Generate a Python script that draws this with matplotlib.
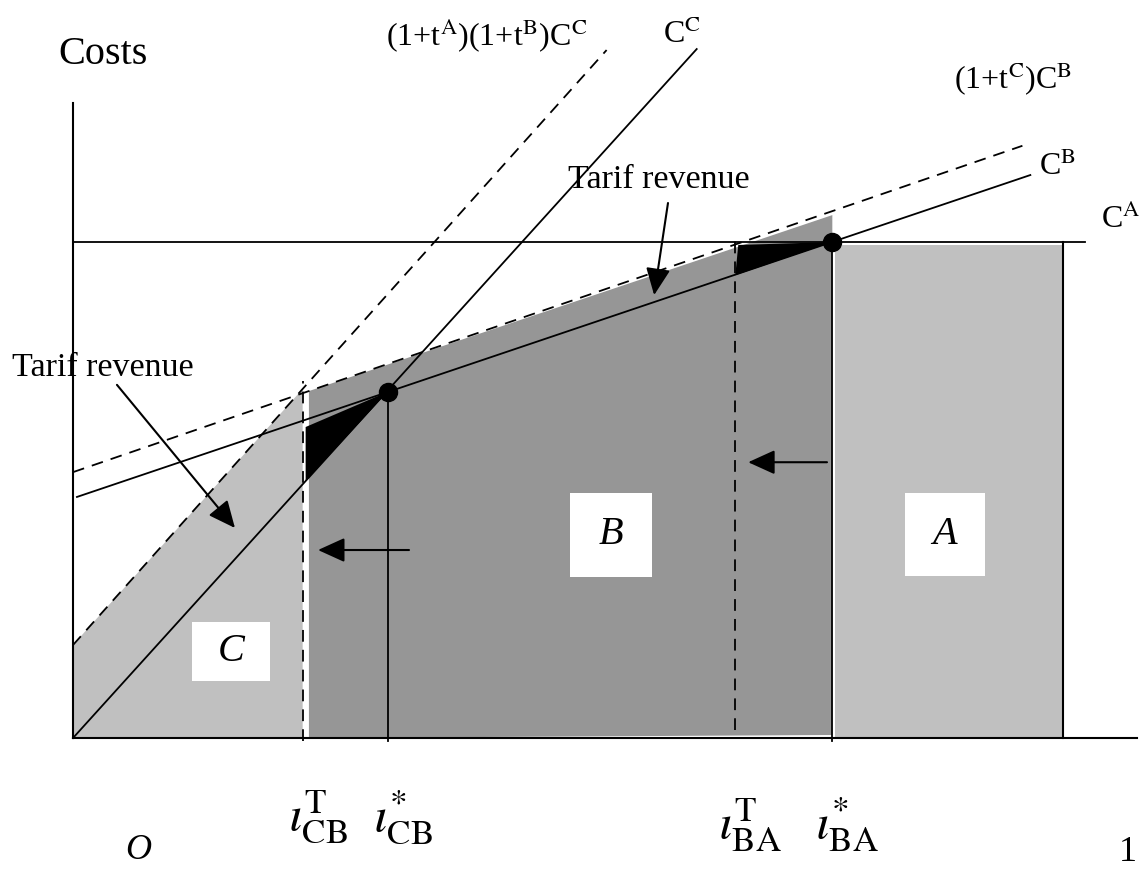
import numpy as np
import matplotlib.pyplot as plt
from matplotlib.patches import Polygon, Rectangle

plt.rcParams['font.family'] = ['Liberation Serif', 'DejaVu Serif']
plt.rcParams['mathtext.fontset'] = 'stix'

# cut-off points on the horizontal axis (share of goods, 0..1)
i_CB_T, i_CB_star = 0.232, 0.318
i_BA_T, i_BA_star = 0.669, 0.767
x_end = 1.0

# cost lines, end points
ca_x, ca_y = [0.0, 1.022], [1.0, 1.0]
cb_x, cb_y = [0.004, 0.967], [0.486, 1.135]
cb_tar_x, cb_tar_y = [0.0, 0.959], [0.536, 1.194]
cc_x, cc_y = [0.0, 0.630], [0.0, 1.389]
cc_tar_x, cc_tar_y = [0.0, 0.539], [0.1875, 1.387]

# black tariff revenue wedges
rev_c_x, rev_c_y = [0.235, 0.235, 0.318], [0.627, 0.518, 0.698]
rev_b_x, rev_b_y = [0.672, 0.669, 0.767], [0.994, 0.933, 1.0]

# equilibrium dots
dots_x = [i_CB_star, i_BA_star]
dots_y = [0.698, 1.0]

LIGHT = '#c0c0c0'
DARK = '#969696'
LW = 1.3
DASH = (0, (6.5, 4.5))


def line_at(xs, ys, x):
    # value of a straight line through two end points
    return ys[0] + (ys[1] - ys[0]) / (xs[1] - xs[0]) * (x - xs[0])


fig = plt.figure(figsize=(11.45, 8.72), dpi=100)
ax = fig.add_axes([0, 0, 1, 1])
ax.set_xlim(-73 / 990, (1145 - 73) / 990)
ax.set_ylim((738 - 872) / 496, 738 / 496)
ax.axis('off')

# shaded regions
top_c = line_at(cc_tar_x, cc_tar_y, i_CB_T)
ax.add_patch(Polygon([(0, 0), (0, cc_tar_y[0]), (i_CB_T, top_c), (i_CB_T, 0)],
                     closed=True, facecolor=LIGHT, edgecolor='none', zorder=1))
xb0 = i_CB_T + 0.004
ax.add_patch(Polygon([(xb0, 0), (xb0, line_at(cb_tar_x, cb_tar_y, xb0)),
                      (i_BA_star, line_at(cb_tar_x, cb_tar_y, i_BA_star) - 0.008),
                      (i_BA_star, 0.006)],
                     closed=True, facecolor=DARK, edgecolor='none', zorder=1))
ax.add_patch(Rectangle((i_BA_star + 0.003, 0), x_end - i_BA_star - 0.004, ca_y[0] - 0.006,
                       facecolor=LIGHT, edgecolor='none', zorder=1))

# black revenue wedges
ax.add_patch(Polygon(list(zip(rev_c_x, rev_c_y)), closed=True, facecolor='black',
                     edgecolor='none', zorder=3))
ax.add_patch(Polygon(list(zip(rev_b_x, rev_b_y)), closed=True, facecolor='black',
                     edgecolor='none', zorder=3))

# axes
ax.plot([0, 0], [0, 1.28], color='black', lw=1.5, zorder=4)
ax.plot([0, 1.075], [0, 0], color='black', lw=1.5, zorder=4)

# cost lines
ax.plot(ca_x, ca_y, color='black', lw=LW, zorder=4)
ax.plot(cb_x, cb_y, color='black', lw=LW, zorder=4)
ax.plot(cb_tar_x, cb_tar_y, color='black', lw=LW, ls=DASH, zorder=4)
ax.plot(cc_x, cc_y, color='black', lw=LW, zorder=4)
ax.plot(cc_tar_x, cc_tar_y, color='black', lw=LW, ls=DASH, zorder=4)

# vertical cut-off lines
ax.plot([i_CB_T + 0.0035] * 2, [0, top_c], color='white', lw=3.5, zorder=2)
ax.plot([i_CB_T] * 2, [-0.006, top_c + 0.015], color='black', lw=LW, ls=DASH, zorder=4)
ax.plot([i_CB_star] * 2, [-0.006, dots_y[0]], color='black', lw=LW, zorder=4)
ax.plot([i_BA_T] * 2, [0.016, 1.008], color='black', lw=LW, ls=DASH, zorder=4)
ax.plot([i_BA_star] * 2, [-0.006, dots_y[1]], color='black', lw=LW, zorder=4)
ax.plot([x_end] * 2, [0, ca_y[0]], color='black', lw=1.5, zorder=4)

ax.plot(dots_x, dots_y, 'o', color='black', ms=13, zorder=5)

# arrows
arrow = dict(arrowstyle='-|>,head_length=0.55,head_width=0.25', mutation_scale=30,
             color='black', lw=1.5, shrinkA=0, shrinkB=0)
ax.annotate('', xy=(0.2475, 0.379), xytext=(0.3394, 0.379), arrowprops=arrow, zorder=6)
ax.annotate('', xy=(0.682, 0.556), xytext=(0.7616, 0.556), arrowprops=arrow, zorder=6)
ax.annotate('', xy=(0.1636, 0.4234), xytext=(0.0444, 0.712), arrowprops=arrow, zorder=6)
ax.annotate('', xy=(0.587, 0.893), xytext=(0.601, 1.0786), arrowprops=arrow, zorder=6)

# region letters in white boxes
for lab, x0, x1, y0, y1 in [('C', 0.1202, 0.1990, 0.115, 0.234),
                             ('B', 0.5020, 0.5848, 0.325, 0.494),
                             ('A', 0.8404, 0.9212, 0.327, 0.494)]:
    ax.add_patch(Rectangle((x0, y0), x1 - x0, y1 - y0, facecolor='white',
                           edgecolor='none', zorder=6))
    ax.text((x0 + x1) / 2, (y0 + y1) / 2, lab, style='italic', fontsize=29,
            ha='center', va='center', zorder=7)

# labels
ax.text(-0.0152, 1.379, 'Costs', fontsize=29, ha='left', va='center')
ax.text(-0.0616, 0.746, 'Tarif revenue', fontsize=24.5, ha='left', va='center')
ax.text(0.683, 1.125, 'Tarif revenue', fontsize=24.5, ha='right', va='center')
ax.text(0.418, 1.415, r'(1+t$^{\mathrm{A}}$)(1+t$^{\mathrm{B}}$)C$^{\mathrm{C}}$',
        fontsize=23, ha='center', va='center')
ax.text(0.615, 1.418, r'C$^{\mathrm{C}}$', fontsize=23, ha='center', va='center')
ax.text(0.9495, 1.328, r'(1+t$^{\mathrm{C}}$)C$^{\mathrm{B}}$', fontsize=23,
        ha='center', va='center')
ax.text(0.994, 1.152, r'C$^{\mathrm{B}}$', fontsize=23, ha='center', va='center')
ax.text(1.058, 1.045, r'C$^{\mathrm{A}}$', fontsize=23, ha='center', va='center')

# axis labels
ax.text(0.066, -0.226, 'O', style='italic', fontsize=26, ha='center', va='center')
ax.text(1.066, -0.23, '1', fontsize=26, ha='center', va='center')
tick_labels = [r'$\iota_{\mathrm{CB}}^{\mathrm{T}}$', r'$\iota_{\mathrm{CB}}^{*}$',
               r'$\iota_{\mathrm{BA}}^{\mathrm{T}}$', r'$\iota_{\mathrm{BA}}^{*}$']
tick_x = [i_CB_T, i_CB_star, i_BA_T, i_BA_star]
tick_y = [-0.16, -0.16, -0.175, -0.175]
for lab, tx, ty in zip(tick_labels, tick_x, tick_y):
    ax.text(tx + 0.015, ty, lab, fontsize=36, ha='center', va='center')

fig.savefig('out.png', dpi=100)
